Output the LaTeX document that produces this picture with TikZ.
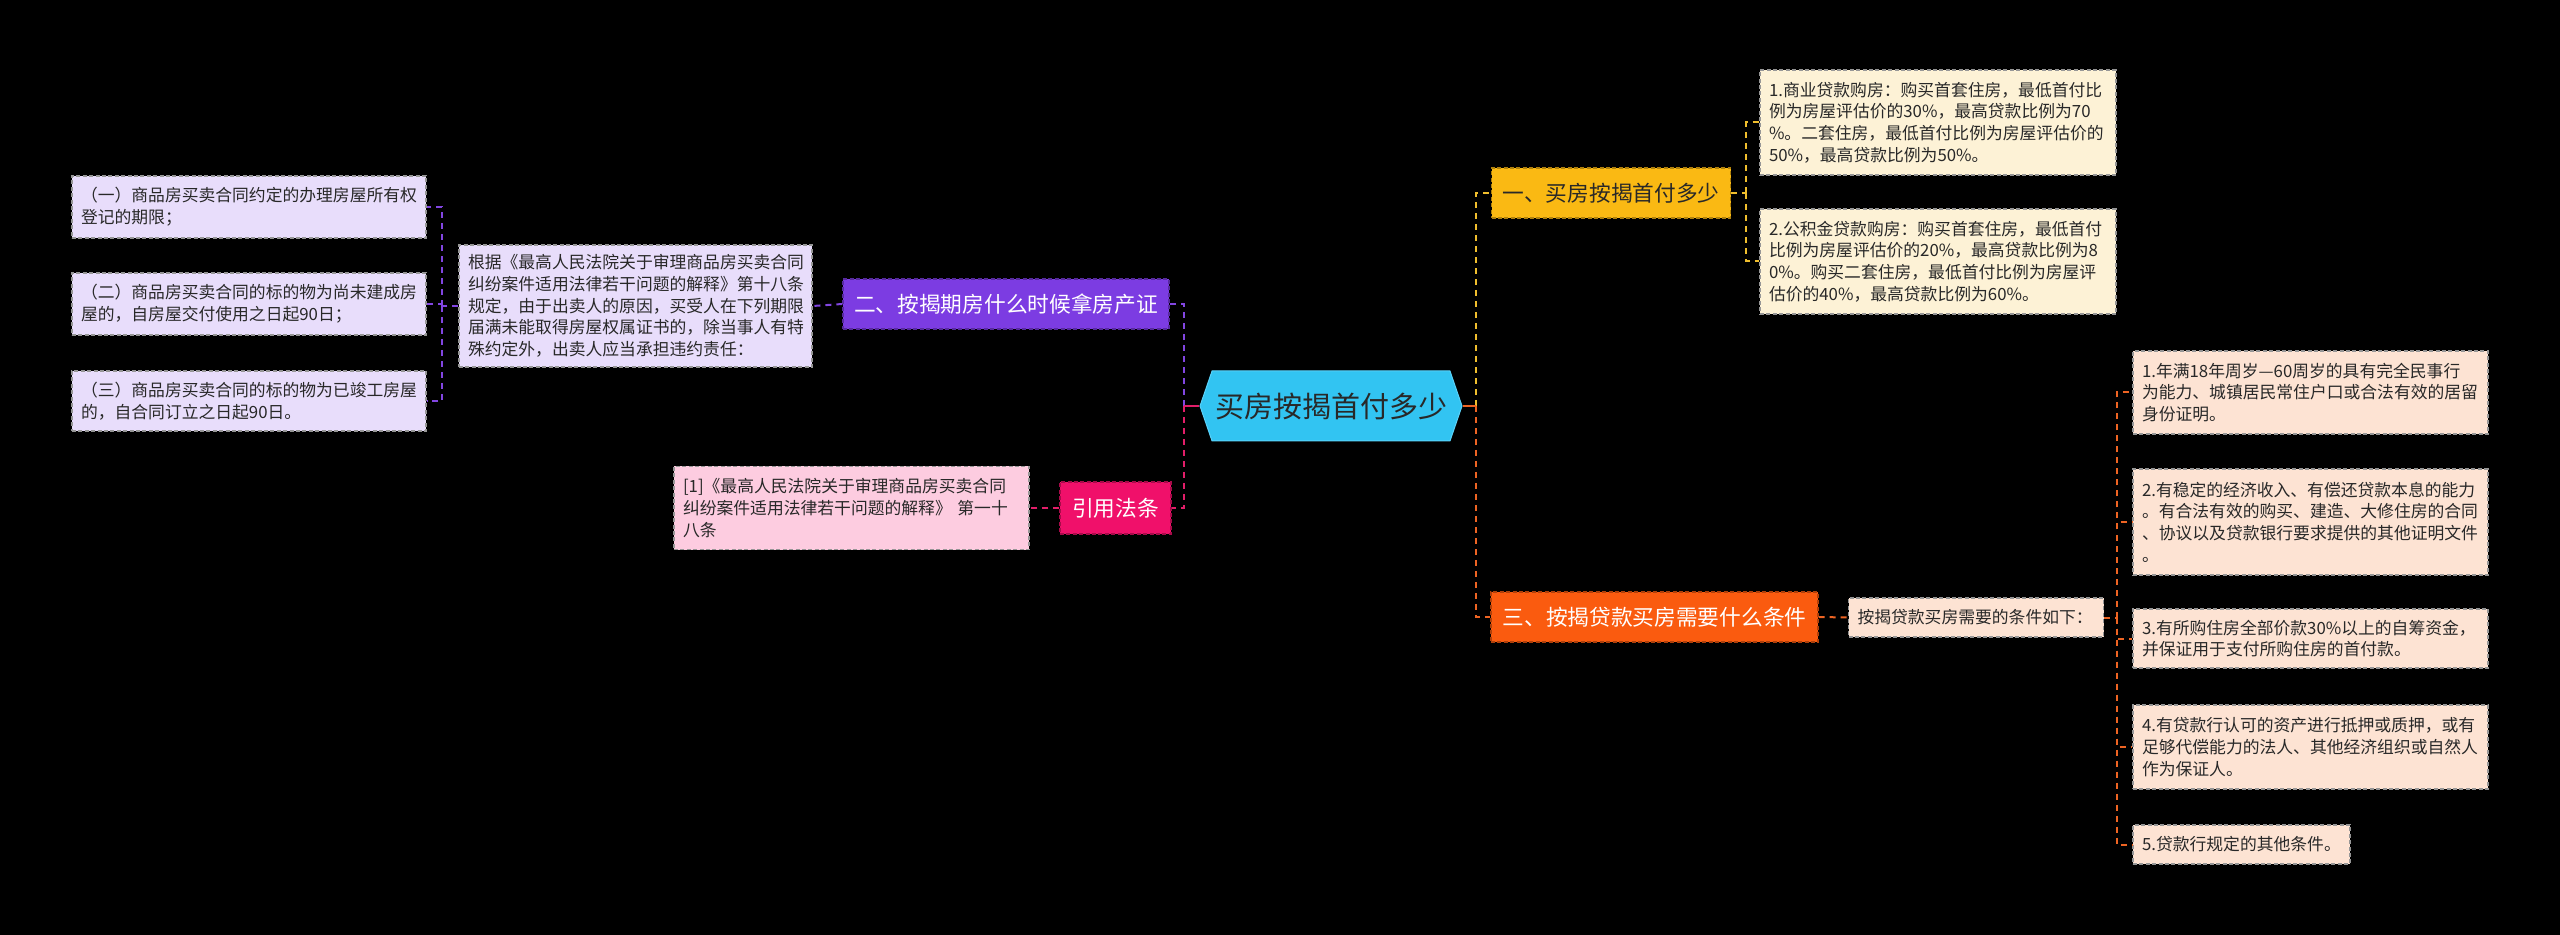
\documentclass[tikz,border=0pt]{standalone}
\usepackage{fontspec}
\setmainfont{Noto Sans CJK SC}
\usetikzlibrary{shapes.symbols}
\definecolor{rootfill}{RGB}{50,196,242}
\definecolor{rootline}{RGB}{90,210,250}
\definecolor{txtdark}{RGB}{40,40,40}
\definecolor{purp}{RGB}{124,60,226}
\definecolor{purpline}{RGB}{130,70,225}
\definecolor{lav}{RGB}{232,221,251}
\definecolor{mag}{RGB}{240,16,106}
\definecolor{magline}{RGB}{226,30,105}
\definecolor{pinkbox}{RGB}{253,204,224}
\definecolor{yel}{RGB}{250,185,19}
\definecolor{yelline}{RGB}{240,190,45}
\definecolor{cream}{RGB}{253,242,214}
\definecolor{ora}{RGB}{250,91,15}
\definecolor{oraline}{RGB}{238,100,35}
\definecolor{peach}{RGB}{253,227,211}
\definecolor{leafborder}{RGB}{150,150,150}
\tikzset{
  leaf/.style={draw=leafborder, dash pattern=on 2pt off 1.2pt, line width=0.6pt,
    inner xsep=4.5pt, inner ysep=0pt, align=left, text=txtdark,
    font=\fontsize{8.4pt}{10.85pt}\selectfont, anchor=center},
  branch/.style={dash pattern=on 2pt off 1.2pt, line width=0.6pt, inner sep=0pt,
    align=center, font=\fontsize{10.85pt}{13pt}\selectfont, anchor=center,
    minimum height=25pt},
  conn/.style={dash pattern=on 3pt off 2.5pt, line width=1pt},
}
\begin{document}
\begin{tikzpicture}[x=0.5pt,y=-0.5pt]
\fill[black] (0,0) rectangle (2560,935);
\useasboundingbox (0,0) rectangle (2560,935);

% root
\node[signal, signal to=west and east, signal pointer angle=142,
  fill=rootfill, draw=rootline, line width=0.5pt, inner sep=0pt,
  minimum width=131pt, minimum height=35pt, text=txtdark,
  font=\fontsize{14.5pt}{16pt}\selectfont] (root) at (1331,406) {买房按揭首付多少};

% branch nodes
\node[branch, fill=purp, draw=purp!70!black, text=white, minimum width=163pt] (b2) at (1006,304) {二、按揭期房什么时候拿房产证};
\node[branch, fill=mag, draw=mag!70!black, text=white, minimum width=55.5pt, minimum height=26pt] (cite) at (1115.5,508) {引用法条};
\node[branch, fill=yel, draw=yel!70!black, text=txtdark, minimum width=119.5pt] (b1) at (1611,193) {一、买房按揭首付多少};
\node[branch, fill=ora, draw=ora!70!black, text=white, minimum width=163.5pt] (b3) at (1654.5,617) {三、按揭贷款买房需要什么条件};

% left (purple) leaves
\node[leaf, fill=lav, text width=168pt, minimum height=31pt] (l1) at (249,207) {（一）商品房买卖合同约定的办理房屋所有权\\登记的期限；};
\node[leaf, fill=lav, text width=168pt, minimum height=31pt] (l2) at (249,304) {（二）商品房买卖合同的标的物为尚未建成房\\屋的，自房屋交付使用之日起90日；};
\node[leaf, fill=lav, text width=168pt, minimum height=30pt] (l3) at (249,401) {（三）商品房买卖合同的标的物为已竣工房屋\\的，自合同订立之日起90日。};
\node[leaf, fill=lav, text width=167.5pt, minimum height=61pt] (para) at (635.5,306) {根据《最高人民法院关于审理商品房买卖合同\\纠纷案件适用法律若干问题的解释》第十八条\\规定，由于出卖人的原因，买受人在下列期限\\届满未能取得房屋权属证书的，除当事人有特\\殊约定外，出卖人应当承担违约责任：};

% cite leaf
\node[leaf, fill=pinkbox, text width=168.5pt, minimum height=41.5pt] (citebox) at (851.5,508) {[1]《最高人民法院关于审理商品房买卖合同\\纠纷案件适用法律若干问题的解释》 第一十\\八条};

% yellow leaves
\node[leaf, fill=cream, text width=169pt, minimum height=52.5pt] (y1) at (1938,122.5) {1.商业贷款购房：购买首套住房，最低首付比\\例为房屋评估价的30\%，最高贷款比例为70\\\%。二套住房，最低首付比例为房屋评估价的\\50\%，最高贷款比例为50\%。};
\node[leaf, fill=cream, text width=169pt, minimum height=52.5pt] (y2) at (1938,261.5) {2.公积金贷款购房：购买首套住房，最低首付\\比例为房屋评估价的20\%，最高贷款比例为8\\0\%。购买二套住房，最低首付比例为房屋评\\估价的40\%，最高贷款比例为60\%。};

% orange leaves
\node[leaf, fill=peach, text width=118.5pt, minimum height=19.5pt] (cond) at (1976,617.5) {按揭贷款买房需要的条件如下：};
\node[leaf, fill=peach, text width=168.5pt, minimum height=41.5pt] (r1) at (2310.5,392.5) {1.年满18年周岁—60周岁的具有完全民事行\\为能力、城镇居民常住户口或合法有效的居留\\身份证明。};
\node[leaf, fill=peach, text width=168.5pt, minimum height=53pt] (r2) at (2310.5,522) {2.有稳定的经济收入、有偿还贷款本息的能力\\。有合法有效的购买、建造、大修住房的合同\\、协议以及贷款银行要求提供的其他证明文件\\。};
\node[leaf, fill=peach, text width=168.5pt, minimum height=29.5pt] (r3) at (2310.5,638.5) {3.有所购住房全部价款30\%以上的自筹资金，\\并保证用于支付所购住房的首付款。};
\node[leaf, fill=peach, text width=168.5pt, minimum height=42pt] (r4) at (2310.5,747) {4.有贷款行认可的资产进行抵押或质押，或有\\足够代偿能力的法人、其他经济组织或自然人\\作为保证人。};
\node[leaf, fill=peach, text width=99.5pt, minimum height=19.5pt] (r5) at (2241.5,844.5) {5.贷款行规定的其他条件。};

% trunk connectors
\coordinate (tl) at (1184,406);
\coordinate (tr) at (1476,406);
\draw[conn, purpline] (tl) |- (b2.east);
\draw[conn, magline] (tl) |- (cite.east);
\draw[magline, line width=1pt] (root.west) -- (tl);
\draw[conn, yelline] (tr) |- (b1.west);
\draw[conn, oraline] (tr) |- (b3.west);
\draw[oraline, line width=1pt] (root.east) -- (tr);

% purple children
\draw[conn, purpline] (b2.west) -- (para.east);
\coordinate (pl) at (442,306);
\draw[conn, purpline] (para.west) -- (pl);
\draw[conn, purpline] (pl) |- (l1.east);
\draw[conn, purpline] (pl) |- (l2.east);
\draw[conn, purpline] (pl) |- (l3.east);

% cite child
\draw[conn, magline] (cite.west) -- (citebox.east);

% yellow children
\coordinate (yb) at (1746,193);
\draw[conn, yelline] (b1.east) -- (yb);
\draw[conn, yelline] (yb) |- (y1.west);
\draw[conn, yelline] (yb) |- (y2.west);

% orange children
\draw[conn, oraline] (b3.east) -- (cond.west);
\coordinate (ob) at (2117,617.5);
\draw[conn, oraline] (cond.east) -- (ob);
\foreach \n in {r1,r2,r3,r4,r5} \draw[conn, oraline] (ob) |- (\n.west);
\end{tikzpicture}
\end{document}
